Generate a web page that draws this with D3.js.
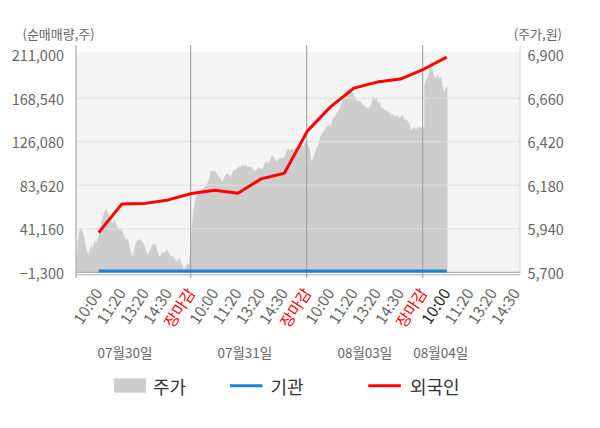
<!DOCTYPE html>
<html><head><meta charset="utf-8">
<script src="https://cdn.jsdelivr.net/npm/d3@7"></script>
<style>
body{margin:0;background:#fff}
svg{display:block;font-family:"Noto Sans CJK KR","Noto Sans",sans-serif}
</style>
</head><body>
<svg id="c" width="600" height="428"></svg>
<script>
// ---- data ----
const timeLabels = ["10:00","11:20","13:20","14:30","장마감",
                    "10:00","11:20","13:20","14:30","장마감",
                    "10:00","11:20","13:20","14:30","장마감",
                    "10:00","11:20","13:20","14:30"];
const dayLabels = ["07월30일","07월31일","08월03일","08월04일"];
const leftTicks = [211000,168540,126080,83620,41160,-1300];
const rightTicks = [6900,6660,6420,6180,5940,5700];
const foreignNet = [37400,65400,65900,69300,75600,78700,75800,89800,95300,136600,160300,178300,184200,187100,196700,208600];
const instNet = [0,0,0,0,0,0,0,0,0,0,0,0,0,0,0,0];
const priceDay1 = [5758,5878,5937,5943,5924,5878,5834,5795,5823,5851,
  5832,5878,5862,5889,5924,5970,6007,6034,6053,6025,
  6007,5979,5970,5989,5970,5943,5933,5944,5924,5896,
  5878,5888,5851,5814,5786,5832,5860,5878,5882,5878,
  5869,5851,5823,5795,5814,5832,5851,5860,5851,5814,
  5786,5795,5814,5805,5814,5823,5805,5786,5795,5777,
  5768,5758,5786,5758,5740,5713,5731,5750,5740];
const priceDay2 = [5989,6062,6114,6126,6136,6154,6160,6163,6176,6191,
  6209,6255,6259,6259,6255,6237,6227,6219,6194,6219,
  6237,6246,6237,6227,6246,6268,6261,6274,6283,6279,
  6292,6286,6292,6286,6279,6283,6274,6264,6259,6268,
  6279,6274,6268,6283,6305,6310,6301,6320,6347,6338,
  6320,6310,6323,6329,6332,6329,6347,6375,6379,6371,
  6379,6375,6384,6390,6384,6402,6412,6393,6415];
const priceDay3 = [6402,6375,6310,6331,6365,6386,6402,6441,6463,6476,
  6485,6503,6513,6503,6522,6550,6558,6577,6586,6605,
  6632,6660,6688,6715,6706,6715,6696,6688,6669,6651,
  6641,6645,6638,6623,6614,6608,6601,6614,6627,6674,
  6651,6669,6632,6641,6605,6605,6595,6595,6586,6577,
  6568,6573,6558,6564,6568,6550,6558,6568,6540,6546,
  6531,6522,6485,6494,6503,6485,6498,6503,6494,6503,
  6485];
const priceDay4 = [6733,6761,6770,6816,6877,6816,6779,6770,6789,6770,6779,6724,6696,6715,6724];

// ---- layout ----
const svg = d3.select("#c");
const L = 76, R = 520, T = 52, B = 272.3;
const x = d3.scaleLinear().domain([0, 20]).range([75.5, 539.5]);
const yL = d3.scaleLinear().domain([-1300, 211000]).range([B, 54.6]);
const yR = d3.scaleLinear().domain([5700, 6900]).range([B, 54.6]);
const perDay = 70;

const priceData = [];
[priceDay1, priceDay2, priceDay3, priceDay4].forEach((arr, d) => {
  arr.forEach((v, i) => priceData.push({ s: d * 5 + (i + 0.5) * 5 / perDay, v }));
});

svg.append("rect").attr("x", L).attr("y", T).attr("width", R - L).attr("height", B - T).attr("fill", "#f4f4f4");

// price area
svg.append("path").datum(priceData)
  .attr("fill", "#cdcdcd")
  .attr("d", d3.area().x(d => x(d.s)).y0(B).y1(d => yR(d.v)));

// gridlines
const g = svg.append("g");
leftTicks.slice(1, -1).forEach(t => {
  g.append("line").attr("x1", L).attr("x2", R).attr("y1", yL(t)).attr("y2", yL(t))
    .attr("stroke", "#dedede").attr("stroke-width", 1);
});
g.append("line").attr("x1", L).attr("x2", R).attr("y1", yL(-1300)).attr("y2", yL(-1300))
  .attr("stroke", "#a0a0a0").attr("stroke-width", 1);
g.append("line").attr("x1", L).attr("x2", R).attr("y1", 274.8).attr("y2", 274.8)
  .attr("stroke", "#b0b0b0").attr("stroke-width", 1);

// axis lines
svg.append("line").attr("x1", R).attr("x2", R).attr("y1", 45).attr("y2", 275)
  .attr("stroke", "#d8d8d8");
svg.append("line").attr("x1", L).attr("x2", L).attr("y1", 45).attr("y2", 278)
  .attr("stroke", "#999");
[5, 10, 15].forEach(s => {
  svg.append("line").attr("x1", x(s) - 0.8).attr("x2", x(s) - 0.8).attr("y1", 45).attr("y2", 278)
    .attr("stroke", "#999");
});

// lines
const line = d3.line().x((d, i) => x(i + 1)).y(d => yL(d));
svg.append("path").datum(instNet).attr("d", line).attr("fill", "none")
  .attr("stroke", "#1a84cc").attr("stroke-width", 3);
svg.append("path").datum(foreignNet).attr("d", line).attr("fill", "none")
  .attr("stroke", "#ff0000").attr("stroke-width", 3).attr("stroke-linejoin", "round");

// left ticks
const fmt = d3.format(",");
svg.append("g").selectAll("text").data(leftTicks).join("text")
  .attr("x", 64).attr("y", d => yL(d)).attr("text-anchor", "end")
  .attr("dominant-baseline", "central").attr("font-size", 14.5).attr("fill", "#666")
  .text(d => fmt(d));
svg.append("g").selectAll("text").data(rightTicks).join("text")
  .attr("x", 527.5).attr("y", d => yR(d)).attr("text-anchor", "start")
  .attr("dominant-baseline", "central").attr("font-size", 14.5).attr("fill", "#666")
  .text(d => fmt(d));

svg.append("text").attr("x", 22.5).attr("y", 33).attr("dominant-baseline", "central")
  .attr("font-size", 13).attr("fill", "#666").text("(순매매량,주)");
svg.append("text").attr("x", 562).attr("y", 33).attr("text-anchor", "end").attr("dominant-baseline", "central")
  .attr("font-size", 13).attr("fill", "#666").text("(주가,원)");

// x labels
svg.append("g").selectAll("text").data(timeLabels).join("text")
  .attr("transform", (d, i) => `translate(${x(i + 1) + 4.5},293) rotate(-57)`)
  .attr("text-anchor", "end").attr("font-size", 15.5)
  .attr("fill", (d, i) => d === "장마감" ? "#ff0000" : (i === 15 ? "#222" : "#666"))
  .text(d => d);

// day labels
const dayPos = [2.13, 7.3, 12.47, 15.74];
svg.append("g").selectAll("text").data(dayLabels).join("text")
  .attr("x", (d, i) => x(dayPos[i])).attr("y", 352).attr("text-anchor", "middle")
  .attr("dominant-baseline", "central").attr("font-size", 13.5).attr("fill", "#666")
  .text(d => d);

// legend
const lg = svg.append("g");
lg.append("rect").attr("x", 114).attr("y", 378.3).attr("width", 32).attr("height", 14.4).attr("fill", "#cdcdcd");
lg.append("text").attr("x", 153).attr("y", 386).attr("dominant-baseline", "central").attr("font-size", 18).attr("fill", "#333").text("주가");
lg.append("line").attr("x1", 230).attr("x2", 262.5).attr("y1", 385.7).attr("y2", 385.7).attr("stroke", "#1a84cc").attr("stroke-width", 3);
lg.append("text").attr("x", 270.5).attr("y", 386).attr("dominant-baseline", "central").attr("font-size", 18).attr("fill", "#333").text("기관");
lg.append("line").attr("x1", 368.3).attr("x2", 400.8).attr("y1", 385.7).attr("y2", 385.7).attr("stroke", "#ff0000").attr("stroke-width", 3);
lg.append("text").attr("x", 410).attr("y", 386).attr("dominant-baseline", "central").attr("font-size", 18).attr("fill", "#333").text("외국인");
</script>
</body></html>
